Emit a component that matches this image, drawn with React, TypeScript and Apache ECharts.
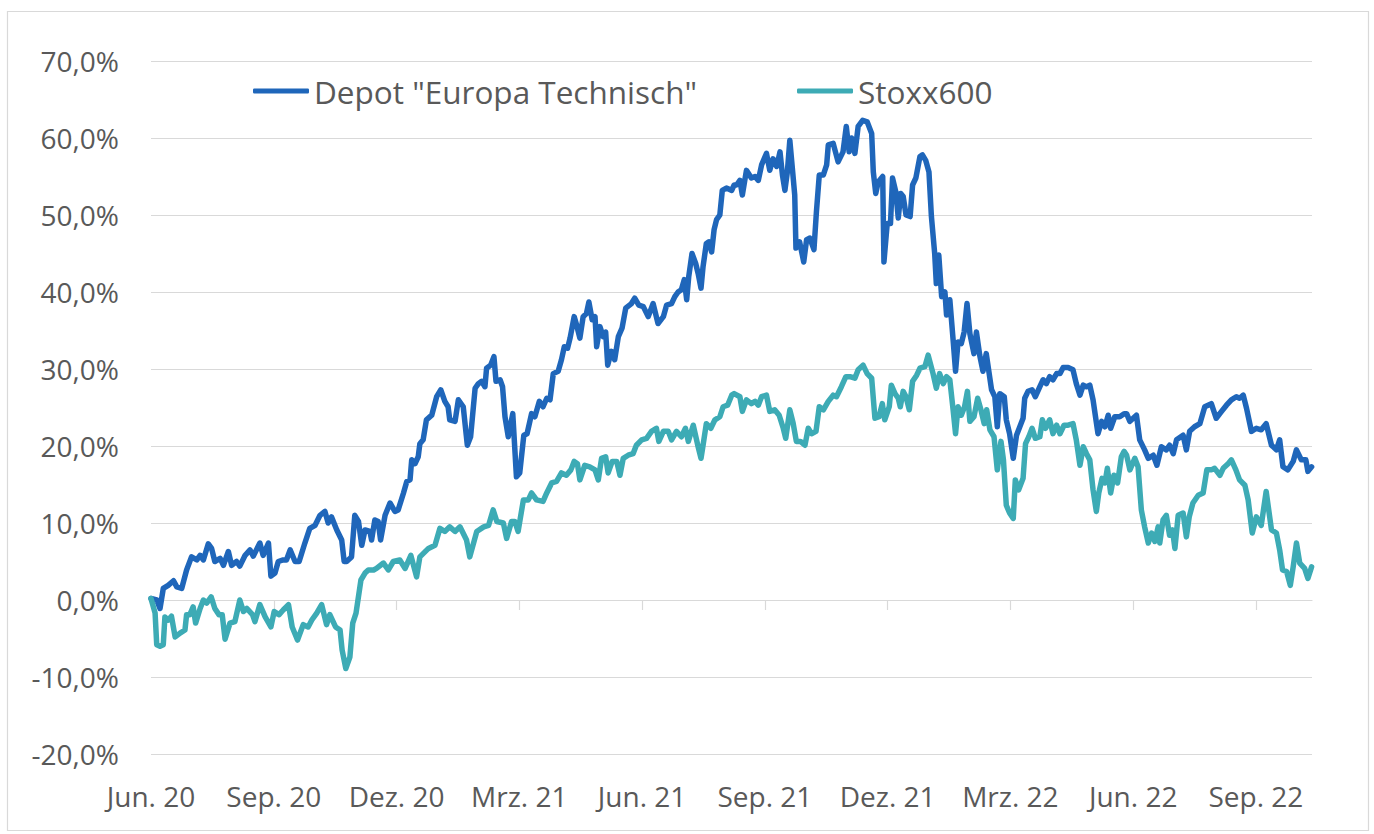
import React, { useEffect, useRef } from 'react';
import * as echarts from 'echarts';

const xLabels = ['Jun. 20', 'Sep. 20', 'Dez. 20', 'Mrz. 21', 'Jun. 21', 'Sep. 21', 'Dez. 21', 'Mrz. 22', 'Jun. 22', 'Sep. 22'];
const labelMonths = [0, 3, 6, 9, 12, 15, 18, 21, 24, 27];
const tickMonths = [3, 6, 9, 12, 15, 18, 21, 24, 27];
const xMax = 28.37;

const depotName = 'Depot "Europa Technisch"';
const stoxxName = 'Stoxx600';

// months since Jun. 2020
const depotMonths = [
  0, 0.14, 0.22, 0.30, 0.42, 0.55, 0.63, 0.75, 0.87, 0.99, 1.12, 1.20, 1.28, 1.40, 1.48, 1.56, 1.69, 1.77, 1.89, 1.97,
  2.09, 2.17, 2.30, 2.42, 2.50, 2.66, 2.74, 2.87, 2.93, 3.03, 3.11, 3.23, 3.31, 3.40, 3.52, 3.62, 3.76, 3.88, 4.01, 4.13,
  4.25, 4.33, 4.41, 4.54, 4.66, 4.72, 4.78, 4.90, 4.98, 5.07, 5.15, 5.23, 5.35, 5.39, 5.47, 5.55, 5.61, 5.72, 5.84, 5.96,
  6.04, 6.17, 6.25, 6.33, 6.37, 6.45, 6.53, 6.57, 6.65, 6.73, 6.86, 6.98, 7.08, 7.18, 7.26, 7.30, 7.43, 7.51, 7.63, 7.73,
  7.81, 7.92, 8.00, 8.08, 8.16, 8.20, 8.30, 8.38, 8.43, 8.53, 8.59, 8.65, 8.73, 8.84, 8.93, 9.01, 9.11, 9.19, 9.30, 9.38,
  9.49, 9.58, 9.67, 9.75, 9.83, 9.95, 10.03, 10.10, 10.18, 10.24, 10.34, 10.40, 10.48, 10.56, 10.64, 10.70, 10.78, 10.85, 10.89, 10.97,
  11.05, 11.11, 11.16, 11.25, 11.33, 11.42, 11.51, 11.60, 11.74, 11.82, 11.92, 12.03, 12.15, 12.27, 12.39, 12.52, 12.60, 12.72, 12.80, 12.88,
  12.96, 13.03, 13.09, 13.14, 13.22, 13.31, 13.37, 13.44, 13.49, 13.57, 13.63, 13.70, 13.76, 13.82, 13.90, 13.96, 14.06, 14.19, 14.25, 14.31,
  14.39, 14.45, 14.55, 14.67, 14.76, 14.84, 14.92, 15.04, 15.12, 15.20, 15.29, 15.37, 15.43, 15.49, 15.55, 15.61, 15.68, 15.73, 15.76, 15.85,
  15.95, 16.02, 16.10, 16.20, 16.26, 16.33, 16.43, 16.51, 16.55, 16.67, 16.79, 16.91, 16.99, 17.06, 17.12, 17.20, 17.28, 17.39, 17.50, 17.61,
  17.65, 17.71, 17.77, 17.88, 17.91, 17.99, 18.07, 18.12, 18.20, 18.26, 18.32, 18.38, 18.45, 18.55, 18.61, 18.69, 18.79, 18.85, 18.93, 19.01,
  19.07, 19.15, 19.19, 19.25, 19.32, 19.40, 19.44, 19.52, 19.60, 19.66, 19.72, 19.80, 19.87, 19.94, 20.01, 20.11, 20.17, 20.25, 20.33, 20.41,
  20.54, 20.62, 20.68, 20.74, 20.85, 20.90, 20.98, 21.07, 21.15, 21.23, 21.31, 21.35, 21.43, 21.53, 21.61, 21.72, 21.80, 21.88, 21.96, 22.04,
  22.13, 22.21, 22.29, 22.41, 22.53, 22.61, 22.70, 22.78, 22.86, 22.94, 23.02, 23.08, 23.14, 23.23, 23.31, 23.39, 23.45, 23.55, 23.67, 23.78,
  23.84, 23.92, 24.08, 24.16, 24.28, 24.37, 24.49, 24.58, 24.69, 24.81, 24.89, 24.98, 25.06, 25.22, 25.30, 25.38, 25.50, 25.63, 25.75, 25.91,
  26.03, 26.16, 26.28, 26.40, 26.52, 26.60, 26.69, 26.77, 26.89, 27.01, 27.13, 27.25, 27.38, 27.50, 27.58, 27.66, 27.78, 27.91, 27.99, 28.11,
  28.22, 28.27, 28.36,
];
const depotValues = [
  0.2, 0.0, -1.1, 1.5, 1.9, 2.5, 1.7, 1.5, 3.9, 5.6, 5.2, 5.8, 5.2, 7.3, 6.7, 5.0, 5.4, 4.5, 6.3, 4.5,
  5.0, 4.4, 5.8, 6.5, 5.7, 7.4, 5.8, 7.4, 3.1, 3.5, 5.0, 5.2, 5.2, 6.5, 5.0, 5.0, 7.4, 9.3, 9.7, 11.0,
  11.5, 10.0, 10.8, 9.1, 7.8, 5.0, 5.0, 5.6, 11.0, 10.2, 7.1, 9.1, 8.9, 7.8, 10.4, 10.2, 7.8, 11.0, 12.6, 11.5,
  11.7, 13.9, 15.4, 15.6, 18.2, 17.7, 18.6, 20.3, 20.8, 23.4, 24.0, 26.4, 27.3, 25.8, 25.1, 23.4, 23.2, 26.0, 25.1, 20.1,
  21.2, 27.5, 28.1, 28.4, 27.7, 30.1, 30.5, 31.6, 28.4, 28.6, 27.7, 23.8, 21.2, 24.2, 16.0, 16.5, 21.4, 21.6, 24.2, 23.8,
  25.8, 25.1, 26.2, 26.0, 29.4, 29.7, 31.2, 32.9, 32.7, 34.0, 36.8, 35.7, 34.0, 36.8, 37.2, 38.7, 36.4, 36.8, 32.9, 35.5,
  34.2, 34.8, 30.5, 32.3, 31.2, 34.2, 35.3, 37.9, 38.5, 39.2, 38.3, 38.1, 36.8, 38.5, 35.9, 36.8, 38.3, 38.5, 39.4, 40.0,
  40.3, 41.6, 39.0, 42.0, 45.0, 43.7, 42.4, 40.5, 43.3, 46.3, 46.5, 45.2, 48.1, 49.4, 50.0, 53.2, 53.5, 53.2, 53.9, 53.9,
  54.5, 52.6, 55.8, 54.8, 55.0, 54.5, 56.5, 58.0, 55.8, 57.3, 56.3, 58.2, 55.2, 53.2, 55.6, 59.7, 55.6, 52.6, 45.7, 46.5,
  43.9, 46.8, 47.0, 45.5, 50.4, 55.2, 55.2, 56.5, 59.1, 59.3, 56.9, 58.2, 61.5, 58.2, 60.0, 58.0, 61.5, 62.3, 62.1, 60.6,
  55.6, 52.8, 54.3, 55.0, 43.9, 48.9, 48.9, 54.8, 53.0, 49.6, 52.8, 52.4, 50.0, 49.8, 53.9, 54.8, 57.6, 57.8, 57.1, 55.6,
  49.8, 45.0, 41.1, 44.8, 39.4, 40.0, 37.0, 39.0, 33.8, 29.7, 33.5, 33.3, 34.8, 38.5, 34.6, 32.0, 34.8, 31.8, 29.7, 32.0,
  27.3, 26.4, 22.5, 26.8, 26.4, 23.4, 21.6, 18.4, 21.4, 22.5, 23.6, 26.2, 27.1, 27.3, 26.4, 27.7, 28.6, 28.1, 29.0, 28.6,
  29.4, 29.4, 30.2, 30.2, 29.9, 28.1, 26.6, 27.9, 27.7, 27.9, 26.0, 23.8, 21.6, 23.2, 22.5, 24.0, 22.3, 23.8, 23.8, 24.2,
  24.2, 23.2, 24.0, 20.8, 19.5, 18.4, 18.8, 17.5, 19.9, 19.5, 20.1, 19.0, 20.8, 21.4, 19.5, 21.9, 22.5, 22.9, 25.1, 25.5,
  23.6, 24.5, 25.3, 26.0, 26.4, 26.2, 26.6, 24.9, 21.9, 22.3, 22.1, 22.9, 20.1, 19.5, 20.8, 17.3, 16.9, 18.0, 19.5, 18.2,
  18.2, 16.7, 17.3,
];

const stoxxMonths = [
  0, 0.10, 0.14, 0.22, 0.30, 0.34, 0.42, 0.50, 0.59, 0.71, 0.83, 0.87, 0.95, 1.03, 1.09, 1.20, 1.28, 1.36, 1.47, 1.56,
  1.66, 1.74, 1.81, 1.93, 2.05, 2.17, 2.26, 2.34, 2.48, 2.54, 2.66, 2.79, 2.93, 3.01, 3.13, 3.23, 3.36, 3.45, 3.58, 3.72,
  3.84, 3.93, 4.05, 4.17, 4.29, 4.37, 4.51, 4.62, 4.67, 4.76, 4.86, 4.93, 5.01, 5.13, 5.23, 5.31, 5.44, 5.51, 5.68, 5.80,
  5.92, 6.08, 6.21, 6.35, 6.49, 6.57, 6.78, 6.94, 7.06, 7.18, 7.30, 7.43, 7.55, 7.71, 7.79, 7.96, 8.13, 8.25, 8.36, 8.45,
  8.61, 8.69, 8.81, 8.89, 8.97, 9.10, 9.22, 9.30, 9.42, 9.58, 9.67, 9.79, 9.91, 10.03, 10.15, 10.26, 10.34, 10.42, 10.48, 10.60,
  10.72, 10.85, 10.93, 11.01, 11.11, 11.17, 11.27, 11.38, 11.46, 11.54, 11.66, 11.78, 11.86, 11.99, 12.11, 12.23, 12.35, 12.41, 12.52, 12.64,
  12.72, 12.84, 12.96, 13.06, 13.13, 13.25, 13.37, 13.44, 13.49, 13.57, 13.68, 13.78, 13.90, 13.98, 14.09, 14.19, 14.25, 14.39, 14.45, 14.55,
  14.67, 14.76, 14.84, 14.92, 15.04, 15.12, 15.24, 15.35, 15.45, 15.51, 15.61, 15.69, 15.77, 15.87, 15.98, 16.06, 16.14, 16.25, 16.33, 16.43,
  16.55, 16.67, 16.75, 16.87, 16.98, 17.08, 17.20, 17.28, 17.40, 17.50, 17.61, 17.69, 17.79, 17.87, 17.93, 18.04, 18.09, 18.18, 18.26, 18.31,
  18.38, 18.45, 18.53, 18.61, 18.71, 18.79, 18.91, 18.99, 19.11, 19.19, 19.27, 19.36, 19.44, 19.52, 19.60, 19.66, 19.72, 19.80, 19.88, 19.95,
  20.01, 20.11, 20.20, 20.28, 20.36, 20.42, 20.50, 20.60, 20.68, 20.77, 20.83, 20.90, 20.98, 21.07, 21.12, 21.20, 21.31, 21.37, 21.45, 21.53,
  21.61, 21.72, 21.78, 21.86, 21.96, 22.04, 22.13, 22.21, 22.31, 22.41, 22.53, 22.61, 22.70, 22.78, 22.86, 22.94, 23.02, 23.10, 23.16, 23.24,
  23.31, 23.37, 23.45, 23.53, 23.62, 23.71, 23.78, 23.84, 23.92, 24.04, 24.12, 24.20, 24.28, 24.37, 24.45, 24.53, 24.61, 24.65, 24.73, 24.81,
  24.89, 24.96, 25.02, 25.10, 25.22, 25.30, 25.37, 25.46, 25.59, 25.71, 25.80, 25.91, 25.99, 26.12, 26.20, 26.32, 26.40, 26.51, 26.60, 26.73,
  26.81, 26.91, 27.01, 27.13, 27.25, 27.38, 27.50, 27.58, 27.65, 27.75, 27.84, 27.91, 27.99, 28.07, 28.19, 28.27, 28.36,
];
const stoxxValues = [
  0.2, -1.7, -5.8, -6.0, -5.8, -2.2, -2.6, -2.1, -4.8, -4.3, -3.9, -1.9, -1.9, -0.9, -3.0, -1.1, 0.0, -0.4, 0.4, -1.1,
  -1.9, -1.9, -5.1, -3.0, -2.8, 0.0, -1.5, -1.1, -1.9, -2.8, -0.6, -2.2, -3.5, -1.5, -1.9, -1.3, -0.6, -3.5, -5.2, -3.2,
  -3.5, -2.6, -1.7, -0.6, -3.2, -1.9, -3.5, -3.9, -6.5, -8.9, -7.4, -3.0, -1.7, 2.6, 3.5, 3.9, 3.9, 4.1, 4.8, 3.9,
  5.0, 5.2, 4.1, 5.8, 3.0, 5.6, 6.7, 7.1, 9.3, 8.9, 9.5, 8.9, 9.5, 7.8, 5.6, 8.9, 9.5, 9.7, 11.7, 10.2,
  10.0, 8.0, 10.2, 10.2, 8.9, 13.0, 13.0, 13.9, 13.0, 12.8, 13.9, 15.2, 15.4, 16.5, 16.2, 16.9, 18.0, 17.7, 15.6, 17.5,
  17.3, 16.9, 15.6, 18.4, 18.6, 16.5, 18.0, 18.0, 16.2, 18.4, 18.8, 19.0, 20.1, 20.8, 21.0, 21.9, 22.3, 20.6, 21.9, 21.9,
  20.8, 21.9, 21.2, 22.3, 20.6, 22.7, 19.9, 18.4, 20.1, 22.9, 22.3, 23.4, 23.8, 25.1, 25.3, 26.6, 26.8, 26.4, 24.5, 26.0,
  25.5, 25.8, 25.3, 26.4, 26.6, 24.5, 24.7, 24.0, 22.3, 21.0, 24.7, 23.0, 20.6, 20.6, 20.1, 22.3, 21.6, 21.9, 25.1, 24.7,
  25.8, 26.6, 26.4, 27.7, 29.0, 29.0, 28.8, 29.9, 30.5, 29.4, 28.8, 23.6, 23.8, 25.5, 23.4, 25.1, 27.9, 26.8, 26.2, 25.1,
  27.1, 26.4, 24.7, 28.4, 29.2, 30.1, 30.3, 31.8, 29.4, 27.5, 29.4, 28.1, 29.0, 28.6, 24.7, 21.6, 25.1, 24.0, 25.1, 27.1,
  23.2, 23.8, 26.2, 24.7, 22.9, 24.7, 22.1, 21.2, 16.9, 20.6, 18.2, 12.3, 11.3, 10.6, 15.6, 14.3, 15.8, 20.3, 21.2, 22.3,
  21.0, 21.2, 23.4, 22.3, 23.4, 21.6, 22.7, 21.6, 22.7, 22.7, 22.9, 20.8, 17.5, 19.9, 19.0, 18.2, 14.3, 11.5, 13.9, 15.8,
  15.2, 17.1, 13.9, 16.2, 15.2, 18.6, 19.3, 18.8, 16.9, 18.4, 17.3, 11.7, 9.5, 7.4, 8.7, 7.6, 9.5, 7.4, 10.4, 11.0,
  8.4, 9.1, 6.7, 11.0, 11.3, 8.2, 10.8, 12.6, 13.6, 13.9, 16.9, 16.9, 17.1, 16.2, 17.1, 17.7, 18.2, 16.9, 15.6, 14.9,
  13.0, 8.7, 10.8, 9.7, 14.1, 9.1, 8.7, 6.5, 3.9, 3.7, 1.9, 4.3, 7.4, 4.8, 4.1, 2.8, 4.3,
];

const TEXT = '#595959';
const GRID = '#d9d9d9';
const FONT = 'Open Sans';
const DEPOT_COLOR = '#1F66BA';
const STOXX_COLOR = '#3DABB5';

export default function App() {
  const ref = useRef<HTMLDivElement>(null);
  useEffect(() => {
    if (!ref.current) return;
    const chart = echarts.init(ref.current, null, { renderer: 'svg' });
    const depotData = depotMonths.map((m, i) => [m, depotValues[i]]);
    const stoxxData = stoxxMonths.map((m, i) => [m, stoxxValues[i]]);
    chart.setOption({
      animation: false,
      textStyle: { fontFamily: FONT },
      grid: { left: 151, right: 62, top: 61, bottom: 80, containLabel: false },
      graphic: [
        {
          type: 'rect',
          shape: { x: 7.5, y: 11.5, width: 1361, height: 819 },
          style: { fill: 'none', stroke: GRID, lineWidth: 1.2 },
          silent: true,
          z: -1,
        },
      ],
      legend: {
        left: 253,
        top: 74,
        padding: 0,
        itemWidth: 56,
        itemHeight: 5,
        itemGap: 100,
        icon: 'roundRect',
        data: [depotName, stoxxName],
        textStyle: { color: TEXT, fontSize: 31.5, fontFamily: FONT, lineHeight: 34 },
      },
      xAxis: [
        {
          type: 'value',
          min: 0,
          max: xMax,
          position: 'bottom',
          axisLine: { show: false, onZero: false },
          axisTick: { show: false },
          splitLine: { show: false },
          axisLabel: {
            customValues: labelMonths,
            formatter: (v: number) => {
              const idx = labelMonths.findIndex((m) => Math.abs(m - v) < 0.01);
              return idx >= 0 ? xLabels[idx] : '';
            },
            color: TEXT,
            fontSize: 28,
            fontFamily: FONT,
            margin: 28,
          },
        },
        {
          type: 'value',
          min: 0,
          max: xMax,
          position: 'top',
          axisLine: { show: true, onZero: true, lineStyle: { color: GRID, width: 1.2 } },
          axisTick: { show: true, inside: true, length: 10, customValues: tickMonths, lineStyle: { color: GRID, width: 1.2 } },
          axisLabel: { show: false },
          splitLine: { show: false },
        },
      ],
      yAxis: {
        type: 'value',
        min: -20,
        max: 70,
        interval: 10,
        axisLine: { show: false },
        axisTick: { show: false },
        splitLine: { lineStyle: { color: GRID, width: 1.2 } },
        axisLabel: {
          formatter: (v: number) => v.toFixed(1).replace('.', ',') + '%',
          color: TEXT,
          fontSize: 28,
          fontFamily: FONT,
          margin: 32,
        },
      },
      series: [
        {
          name: depotName,
          type: 'line',
          xAxisIndex: 0,
          data: depotData,
          showSymbol: false,
          symbol: 'none',
          itemStyle: { color: DEPOT_COLOR },
          lineStyle: { color: DEPOT_COLOR, width: 5.5, cap: 'round', join: 'round' },
        },
        {
          name: stoxxName,
          type: 'line',
          xAxisIndex: 0,
          data: stoxxData,
          showSymbol: false,
          symbol: 'none',
          itemStyle: { color: STOXX_COLOR },
          lineStyle: { color: STOXX_COLOR, width: 5.5, cap: 'round', join: 'round' },
        },
      ],
    });
    return () => chart.dispose();
  }, []);
  return <div ref={ref} style={{ position: 'absolute', left: 0, top: 0, width: 1374, height: 834 }} />;
}
